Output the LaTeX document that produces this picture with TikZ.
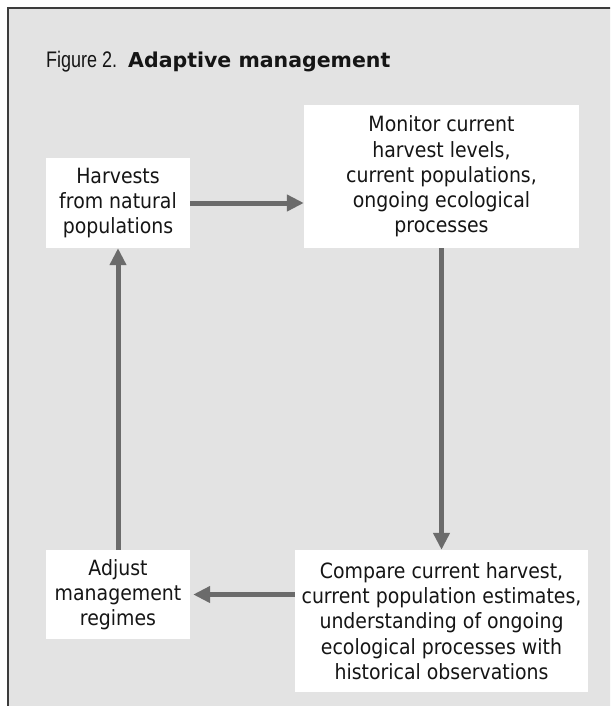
\documentclass[tikz,border=0pt]{standalone}
\usepackage{fontspec}
\setmainfont{DejaVu Sans}
\newfontfamily\boxfont{DejaVu Sans}[FakeStretch=0.9]
\newfontfamily\headfont{DejaVu Sans}
\newfontfamily\figfont{Liberation Sans}[FakeStretch=0.8]
\usetikzlibrary{arrows.meta}

\definecolor{panelgray}{HTML}{E3E3E3}
\definecolor{framegray}{HTML}{3C3C3C}
\definecolor{arrowgray}{HTML}{6B6B6B}
\definecolor{inkblack}{HTML}{151515}

\tikzset{
  box/.style={fill=white, draw=none, inner sep=0pt, align=center,
    text=inkblack, font=\boxfont\fontsize{21}{25.2}\selectfont},
  flow/.style={draw=arrowgray, line width=5pt,
    -{Triangle[length=17pt,width=16pt]}},
}

\begin{document}
\begin{tikzpicture}[x=1pt,y=-1pt]
  \useasboundingbox (0,0) rectangle (610,706);

  % page background and the grey figure panel (runs off the right and bottom)
  \begin{scope}
    \clip (0,0) rectangle (610,706);
    \fill[white] (0,0) rectangle (610,706);
    \draw[fill=panelgray, draw=framegray, line width=1.5pt] (8,8) rectangle (660,760);
  \end{scope}

  % heading
  \node[anchor=base west, inner sep=0pt, text=inkblack] (title) at (46,68)
    {{\figfont\fontsize{22.5}{26}\selectfont Figure 2.}\hspace{11pt}{\headfont\bfseries\fontsize{20.5}{25}\selectfont Adaptive management}};

  % the four stages of the cycle
  \node[box, minimum width=144, minimum height=90] (harv) at (118,203)
    {Harvests\\from natural\\populations};
  \node[box, minimum width=275, minimum height=143] (mon) at (441.5,176.5)
    {Monitor current\\harvest levels,\\current populations,\\ongoing ecological\\processes};
  \node[box, minimum width=293, minimum height=142] (cmp) at (441.5,621)
    {Compare current harvest,\\current population estimates,\\understanding of ongoing\\ecological processes with\\historical observations};
  \node[box, minimum width=144, minimum height=89] (adj) at (118,594.5)
    {Adjust\\management\\regimes};

  % connectors
  \draw[flow] (harv.east) -- (harv.east -| mon.west);
  \draw[flow] (mon.south) -- (mon.south |- cmp.north);
  \draw[flow, shorten >=3pt] (adj.east -| cmp.west) -- (adj.east);
  \draw[flow] (adj.north) -- (harv.south);
\end{tikzpicture}
\end{document}
